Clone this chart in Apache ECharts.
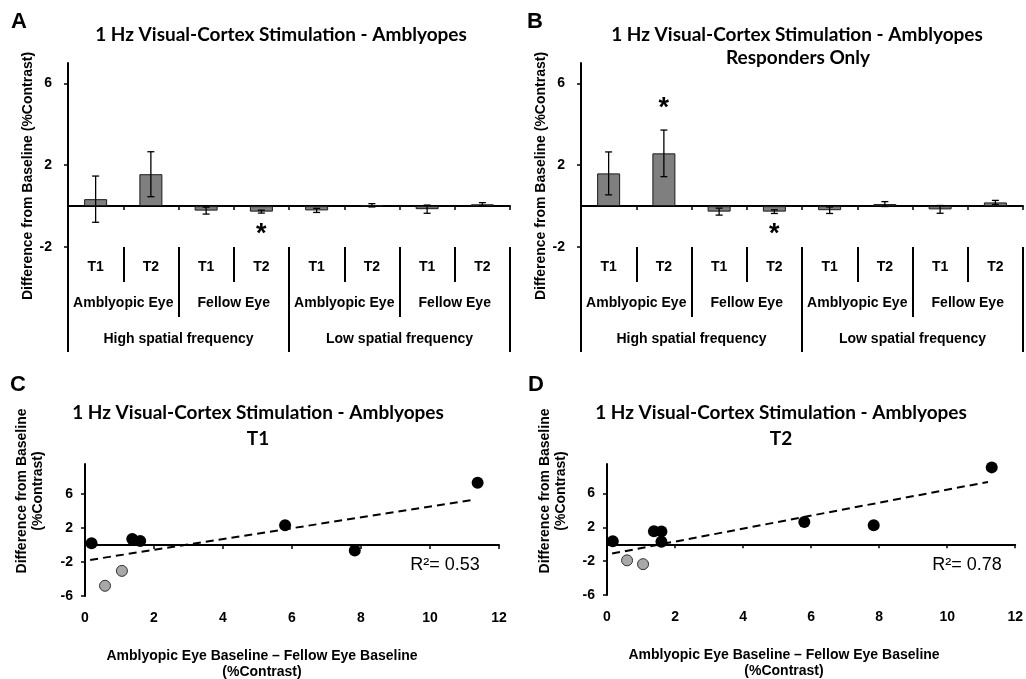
<!DOCTYPE html>
<html>
<head>
<meta charset="utf-8">
<title>1 Hz Visual-Cortex Stimulation - Amblyopes</title>
<script src="https://cdn.jsdelivr.net/npm/echarts@6/dist/echarts.min.js"></script>
<style>
  html, body { margin: 0; padding: 0; background: #fff; }
  #chart { width: 1026px; height: 679px; }
</style>
</head>
<body>
<div id="chart"></div>
<script>
// category levels under the bar panels
const timeCats = ['T1', 'T2', 'T1', 'T2', 'T1', 'T2', 'T1', 'T2'];
const eyeCats = ['Amblyopic Eye', 'Fellow Eye', 'Amblyopic Eye', 'Fellow Eye'];
const freqCats = ['High spatial frequency', 'Low spatial frequency'];

// A: all amblyopes, mean difference from baseline and error
const meanAll = [0.34, 1.56, -0.22, -0.27, -0.21, 0.04, -0.15, 0.09];
const errAll = [1.13, 1.1, 0.17, 0.07, 0.1, 0.08, 0.2, 0.08];
const starsAll = [[3, -1.15]];

// B: responders only
const meanResp = [1.6, 2.58, -0.27, -0.27, -0.2, 0.1, -0.16, 0.18];
const errResp = [1.05, 1.14, 0.17, 0.09, 0.16, 0.12, 0.19, 0.1];
const starsResp = [[1, 5.0], [3, -1.15]];

// C: T1, baseline difference vs change
const t1Black = [[0.19, 0.2], [1.37, 0.7], [1.6, 0.45], [5.8, 2.3], [7.82, -0.65], [11.38, 7.3]];
const t1Grey = [[0.58, -4.8], [1.07, -3.05]];
const t1Trend = [[0.15, -1.76], [11.25, 5.3]];

// D: T2
const t2Black = [[0.17, 0.35], [1.38, 1.55], [1.6, 1.5], [1.6, 0.3], [5.8, 2.65], [7.84, 2.25], [11.31, 9.1]];
const t2Grey = [[0.59, -1.9], [1.06, -2.35]];
const t2Trend = [[0.15, -1.1], [11.2, 7.38]];

const barTicks = [-2, 2, 6];
const scatterTicks = [-6, -2, 2, 6];

const labelFont = 'Liberation Sans, Arial, sans-serif';
const titleFont = 'Lato, Open Sans, sans-serif';

const xAxis = [];
const yAxis = [];
const series = [];

function renderErr(params, api) {
  const i = api.value(0);
  const m = api.value(1);
  const e = api.value(2);
  const hi = api.coord([i, m + e]);
  const lo = api.coord([i, m - e]);
  const cap = 3.5;
  const st = { stroke: '#000', lineWidth: 1.3 };
  return {
    type: 'group',
    children: [
      { type: 'line', shape: { x1: hi[0], y1: hi[1], x2: lo[0], y2: lo[1] }, style: st },
      { type: 'line', shape: { x1: hi[0] - cap, y1: hi[1], x2: hi[0] + cap, y2: hi[1] }, style: st },
      { type: 'line', shape: { x1: lo[0] - cap, y1: lo[1], x2: lo[0] + cap, y2: lo[1] }, style: st },
    ],
  };
}

function renderStar(params, api) {
  const p = api.coord([api.value(0), api.value(1)]);
  return {
    type: 'text',
    x: p[0],
    y: p[1] + 5,
    style: { text: '*', font: 'bold 27px ' + labelFont, fill: '#000', align: 'center', verticalAlign: 'middle' },
  };
}

function levelAxis(grid, cats, len, margin) {
  return {
    type: 'category',
    gridIndex: grid,
    position: 'bottom',
    data: cats,
    axisLine: { show: false, onZero: false },
    axisTick: { show: true, interval: 0, length: len, lineStyle: { color: '#000', width: 2 } },
    axisLabel: { interval: 0, margin: margin, color: '#000', fontWeight: 'bold', fontSize: 14, fontFamily: labelFont },
    splitLine: { show: false },
  };
}

function barPanel(grid, means, errs, stars) {
  const x0 = xAxis.length;
  xAxis.push({
    type: 'category',
    gridIndex: grid,
    data: timeCats,
    axisLine: { show: true, onZero: true, lineStyle: { color: '#000', width: 2 } },
    axisTick: { show: true, interval: 0, length: 4, lineStyle: { color: '#000', width: 1.5 } },
    axisLabel: { show: false },
    splitLine: { show: false },
  });
  xAxis.push(levelAxis(grid, timeCats, 35, 13));
  xAxis.push(levelAxis(grid, eyeCats, 70, 49));
  xAxis.push(levelAxis(grid, freqCats, 105, 85));
  const y0 = yAxis.length;
  yAxis.push({
    type: 'value',
    gridIndex: grid,
    min: -2,
    max: 7,
    axisLine: { show: true, onZero: false, lineStyle: { color: '#000', width: 2 } },
    axisTick: { show: true, length: 4, customValues: barTicks, lineStyle: { color: '#000', width: 1.5 } },
    axisLabel: { customValues: barTicks, margin: 16, color: '#000', fontWeight: 'bold', fontSize: 14, fontFamily: labelFont },
    splitLine: { show: false },
  });
  series.push({
    type: 'bar',
    xAxisIndex: x0,
    yAxisIndex: y0,
    data: means,
    barWidth: 23,
    itemStyle: { color: '#7f7f7f', borderColor: '#1a1a1a', borderWidth: 1 },
    silent: true,
  });
  series.push({
    type: 'custom',
    xAxisIndex: x0,
    yAxisIndex: y0,
    data: means.map((m, i) => [i, m, errs[i]]),
    encode: { x: 0, y: 1 },
    renderItem: renderErr,
    z: 3,
    silent: true,
  });
  series.push({
    type: 'custom',
    xAxisIndex: x0,
    yAxisIndex: y0,
    data: stars,
    encode: { x: 0, y: 1 },
    renderItem: renderStar,
    z: 3,
    silent: true,
  });
}

function scatterPanel(grid, black, grey, trend) {
  const x0 = xAxis.length;
  xAxis.push({
    type: 'value',
    gridIndex: grid,
    min: 0,
    max: 12,
    interval: 2,
    axisLine: { show: true, onZero: true, lineStyle: { color: '#000', width: 2 } },
    axisTick: { show: true, length: 4, lineStyle: { color: '#000', width: 1.5 } },
    axisLabel: { show: false },
    splitLine: { show: false },
  });
  xAxis.push({
    type: 'value',
    gridIndex: grid,
    position: 'bottom',
    min: 0,
    max: 12,
    interval: 2,
    axisLine: { show: false, onZero: false },
    axisTick: { show: false },
    axisLabel: { margin: 15, color: '#000', fontWeight: 'bold', fontSize: 14, fontFamily: labelFont },
    splitLine: { show: false },
  });
  const y0 = yAxis.length;
  yAxis.push({
    type: 'value',
    gridIndex: grid,
    min: -6,
    max: 9.5,
    axisLine: { show: true, onZero: false, lineStyle: { color: '#000', width: 2 } },
    axisTick: { show: true, length: 4, customValues: scatterTicks, lineStyle: { color: '#000', width: 1.5 } },
    axisLabel: { customValues: scatterTicks, margin: 12, color: '#000', fontWeight: 'bold', fontSize: 14, fontFamily: labelFont },
    splitLine: { show: false },
  });
  series.push({
    type: 'line',
    xAxisIndex: x0,
    yAxisIndex: y0,
    data: trend,
    symbol: 'none',
    lineStyle: { color: '#000', width: 2, type: [8, 5] },
    z: 2,
    silent: true,
  });
  series.push({
    type: 'scatter',
    xAxisIndex: x0,
    yAxisIndex: y0,
    data: grey,
    symbolSize: 11,
    itemStyle: { color: '#a8a8a8', borderColor: '#333', borderWidth: 1, opacity: 1 },
    z: 3,
    silent: true,
  });
  series.push({
    type: 'scatter',
    xAxisIndex: x0,
    yAxisIndex: y0,
    data: black,
    symbolSize: 12,
    itemStyle: { color: '#000', opacity: 1 },
    z: 4,
    silent: true,
  });
}

barPanel(0, meanAll, errAll, starsAll);
barPanel(1, meanResp, errResp, starsResp);
scatterPanel(2, t1Black, t1Grey, t1Trend);
scatterPanel(3, t2Black, t2Grey, t2Trend);

function txt(x, y, text, font, extra) {
  return Object.assign({
    type: 'text',
    x: x,
    y: y,
    silent: true,
    style: { text: text, font: font, fill: '#000', align: 'center', verticalAlign: 'middle', lineHeight: 16 },
  }, extra || {});
}

const letterFont = 'bold 22px ' + labelFont;
const headFont = 'bold 19px ' + titleFont;
const nameFont = 'bold 14px ' + labelFont;

const graphics = [
  txt(19, 22, 'A', letterFont),
  txt(535, 22, 'B', letterFont),
  txt(18, 385, 'C', letterFont),
  txt(536, 385, 'D', letterFont),
  txt(281, 35, '1 Hz Visual-Cortex Stimulation - Amblyopes', headFont),
  txt(797, 35, '1 Hz Visual-Cortex Stimulation - Amblyopes', headFont),
  txt(798, 58, 'Responders Only', headFont),
  txt(258, 413, '1 Hz Visual-Cortex Stimulation - Amblyopes', headFont),
  txt(258, 439, 'T1', headFont),
  txt(781, 413, '1 Hz Visual-Cortex Stimulation - Amblyopes', headFont),
  txt(781, 439, 'T2', headFont),
  txt(28, 176, 'Difference from Baseline (%Contrast)', nameFont, { rotation: Math.PI / 2 }),
  txt(541, 176, 'Difference from Baseline (%Contrast)', nameFont, { rotation: Math.PI / 2 }),
  txt(30, 491, 'Difference from Baseline\n(%Contrast)', nameFont, { rotation: Math.PI / 2 }),
  txt(553, 491, 'Difference from Baseline\n(%Contrast)', nameFont, { rotation: Math.PI / 2 }),
  txt(262, 656, 'Amblyopic Eye Baseline \u2013 Fellow Eye Baseline', nameFont),
  txt(262, 672, '(%Contrast)', nameFont),
  txt(784, 655, 'Amblyopic Eye Baseline \u2013 Fellow Eye Baseline', nameFont),
  txt(784, 671, '(%Contrast)', nameFont),
  txt(445, 565, 'R\u00b2= 0.53', '18px ' + labelFont),
  txt(967, 565, 'R\u00b2= 0.78', '18px ' + labelFont),
];

const chart = echarts.init(document.getElementById('chart'), null, { renderer: 'canvas' });
chart.setOption({
  backgroundColor: '#fff',
  animation: false,
  grid: [
    { left: 68, top: 63, width: 442, height: 184 },
    { left: 581, top: 63, width: 442, height: 184 },
    { left: 85, top: 464, width: 414, height: 132 },
    { left: 607, top: 464, width: 416, height: 131 },
  ],
  xAxis: xAxis,
  yAxis: yAxis,
  series: series,
  graphic: graphics,
});
</script>
</body>
</html>
